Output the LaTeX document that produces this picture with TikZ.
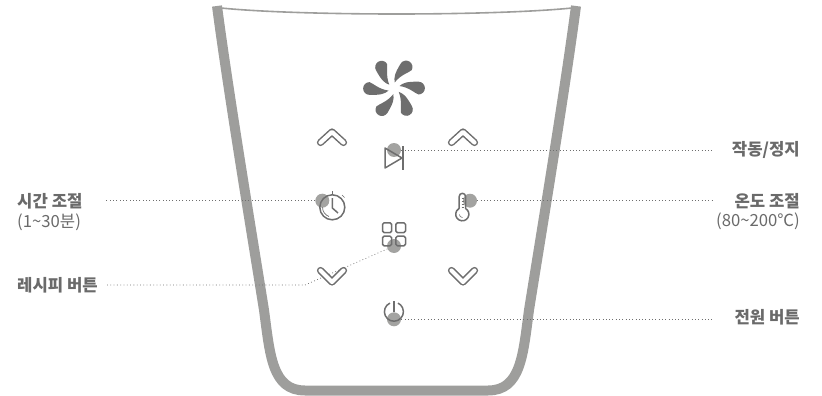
\documentclass[tikz,border=0pt]{standalone}
\usepackage{fontspec}
\setmainfont{Noto Sans CJK KR}
\newfontfamily\lblfont{Noto Sans CJK KR}
\definecolor{cupgray}{HTML}{9E9E9C}
\definecolor{icondark}{HTML}{6E6E6E}
\definecolor{txtgray}{HTML}{6A6A6A}
\definecolor{spot}{HTML}{A3A3A1}
\tikzset{
  spotdot/.style={circle,fill=spot,draw=none,minimum size=14pt,inner sep=0pt},
  conn/.style={icondark,line width=0.7pt,dash pattern=on 0.8pt off 2.5pt},
  icon/.style={icondark,line width=1.5pt,line join=round},
  chev/.style={double=white,draw=icondark,double distance=4.2pt,line width=1.5pt,line cap=round,line join=round},
  lblhead/.style={inner sep=0pt,text=txtgray,font=\lblfont\fontsize{16.7pt}{18pt}\selectfont\bfseries},
  lblsub/.style={inner sep=0pt,text=txtgray,font=\lblfont\fontsize{16.7pt}{18pt}\selectfont},
}
\begin{document}
\begin{tikzpicture}[x=1pt,y=-1pt]
\useasboundingbox (0,0) rectangle (822,396);
\begin{scope}
\clip (0,0) rectangle (822,396);
% cup
\draw[cupgray,line width=10pt] (217,6) .. controls (228,90) and (252,235) .. (264,310)
  .. controls (270,355) and (272,390.5) .. (305,390.5) -- (488,390.5)
  .. controls (521,390.5) and (523,355) .. (529,310)
  .. controls (541,235) and (565,90) .. (576,6);
\draw[cupgray,line width=1.6pt] (221,8) .. controls (300,16) and (493,16) .. (572,8);
\end{scope}
% spots
\node[spotdot] (play) at (394,150) {};
\node[spotdot] (clock) at (322.3,200.7) {};
\node[spotdot] (therm) at (470,200.7) {};
\node[spotdot] (grid) at (394,246) {};
\node[spotdot] (power) at (394,319.3) {};
% labels
\node[lblhead,anchor=west] (ltime) at (17,201) {시간 조절};
\node[lblsub,anchor=west] (ltimes) at (17,222) {(1\textasciitilde 30분)};
\node[lblhead,anchor=west] (lrecipe) at (17,285) {레시피 버튼};
\node[lblhead,anchor=east] (lplay) at (800,150) {작동/정지};
\node[lblhead,anchor=east] (ltemp) at (800,201) {온도 조절};
\node[lblsub,anchor=east] (ltemps) at (800,221) {(80\textasciitilde 200℃)};
\node[lblhead,anchor=east] (lpower) at (800,317) {전원 버튼};
\coordinate (bend) at (305,285);
% connectors
\draw[conn] (play.east) -- (play.east -| 714,0);
\draw[conn] (therm.east) -- (therm.east -| 714,0);
\draw[conn] (power.east) -- (power.east -| 714,0);
\draw[conn] (clock.west) -- (clock.west -| 105,0);
\draw[conn] (grid) -- (bend) -- (bend -| 106,0);
% fan
\foreach \a in {0,60,...,300}{
  \fill[icondark,shift={(394,88.3)},rotate=\a]
    (5.5,-2.3) .. controls (9,-5.5) and (13,-6.8) .. (24.5,-6.6)
    arc[start angle=90,end angle=-90,radius=6.4pt]
    .. controls (21,5) and (15,-1) .. (5.5,-2.3) -- cycle;
}
% chevrons
\draw[chev] (320.5,142.5) -- (332,132) -- (343.5,142.5);
\draw[chev] (451.5,142.5) -- (463,132) -- (474.5,142.5);
\draw[chev] (320.5,270.5) -- (332,282) -- (343.5,270.5);
\draw[chev] (451.5,270.5) -- (463,282) -- (474.5,270.5);
% play
\draw[icon] (385,148) -- (385,168) -- (402,158) -- cycle;
\draw[icondark,line width=1.8pt] (403,146) -- (403,170);
% clock
\draw[icon] (332.3,207.3) circle[radius=12.5pt];
\draw[icon] (332.3,191) -- (332.3,195);
\draw[icon] (332.3,198) -- (332.3,208) -- (338,213);
\draw[icondark,line width=0.7pt] (322.5,207.3) arc[start angle=180,end angle=250,radius=9.8pt];
\draw[icondark,line width=0.7pt] (342,195) -- (344.5,197.5);
% thermometer
\draw[icon] (459.2,208.5) -- (459.2,196.5) arc[start angle=180,end angle=0,radius=3.2pt] -- (465.6,208.5)
  arc[start angle=60,end angle=-240,radius=6.6pt];
\draw[icondark,line width=0.6pt] (461.5,198) -- (464,198) (461.5,201) -- (464,201) (461.5,204) -- (464,204) (461.5,207) -- (464,207);
\draw[icondark,line width=0.6pt] (462.4,217.5) arc[start angle=270,end angle=180,radius=3pt];
% grid
\draw[icon,rounded corners=1.6pt] (382.5,222.8) rectangle (391.7,232.6);
\draw[icon,rounded corners=1.6pt] (395.8,222.8) rectangle (405.5,232.6);
\draw[icon,rounded corners=1.6pt] (382.5,236.2) rectangle (391.7,245.8);
\draw[icon,rounded corners=1.6pt] (395.8,236.2) rectangle (405.5,245.8);
% power
\draw[icon] (389.9,303.1) arc[start angle=115,end angle=425,radius=9.5pt];
\draw[icon] (394,301) -- (394,312);
\end{tikzpicture}
\end{document}
